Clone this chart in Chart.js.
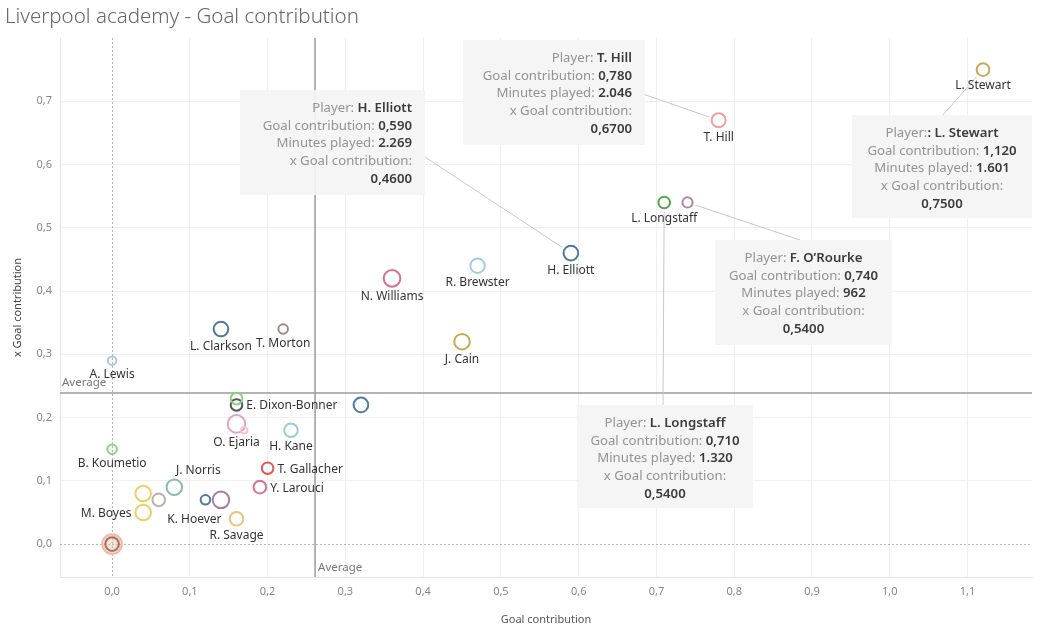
<!DOCTYPE html>
<html><head><meta charset="utf-8">
<script src="https://cdn.jsdelivr.net/npm/chart.js@4"></script>
<style>html,body{margin:0;padding:0;background:#fff;overflow:hidden}</style>
</head><body>
<canvas id="c" width="1044" height="632"></canvas>
<script>
// ---------- data ----------
const players = ["L. Stewart","T. Hill","L. Longstaff","F. O’Rourke","H. Elliott","R. Brewster","N. Williams","J. Cain","L. Clarkson","T. Morton","A. Lewis","E. Dixon-Bonner","","","O. Ejaria","","H. Kane","B. Koumetio","T. Gallacher","Y. Larouci","J. Norris","","","M. Boyes","K. Hoever","","R. Savage","",""];
const goalContribution = [1.12,0.78,0.71,0.74,0.59,0.47,0.36,0.45,0.14,0.22,0.00,0.16,0.16,0.32,0.16,0.17,0.23,0.00,0.20,0.19,0.08,0.04,0.06,0.04,0.12,0.14,0.16,0.00,0.00];
const xGoalContribution = [0.75,0.67,0.54,0.54,0.46,0.44,0.42,0.32,0.34,0.34,0.29,0.22,0.23,0.22,0.19,0.18,0.18,0.15,0.12,0.09,0.09,0.08,0.07,0.05,0.07,0.07,0.04,0.00,0.00];
const minutesPlayed = [1601,2046,1320,962,2269,2200,3000,2600,2250,800,600,1300,1300,2250,3440,300,1900,800,1300,1600,2600,2600,1600,2600,800,3000,1900,4400,1900];
const xTickValues = [0,0.1,0.2,0.3,0.4,0.5,0.6,0.7,0.8,0.9,1.0,1.1];
const yTickValues = [0,0.1,0.2,0.3,0.4,0.5,0.6,0.7];
const averageGoalContribution = 0.261;
const averageXGoalContribution = 0.239;
const calloutPlayers = ["H. Elliott","T. Hill","L. Stewart","F. O’Rourke","L. Longstaff"];
const hiddenLabels = ["F. O’Rourke"];

// ---------- styles ----------
const pointColors = ["#c9a94f","#f0a0a0","#59a14f","#b983a8","#4e79a7","#a0cbe8","#d37295","#c9a94f","#4e79a7","#9a8c8c","#a0cbe8","#555555","#8cd17d","#4e79a7","#d9a6c8","#fabfd2","#9ccbd6","#8cd17d","#e15759","#d37295","#86bcb6","#f1ce63","#bab0ac","#f1ce63","#4e79a7","#a77ca3","#f0c27b","#f7b5a8","#9c755f"];
const FONT = "'Noto Sans', sans-serif";
const radiusOf = m => 1.0 + 0.133 * Math.sqrt(m);
const labelPlacement = {
  "E. Dixon-Bonner": {side: "right"},
  "T. Gallacher": {side: "right"},
  "Y. Larouci": {side: "right"},
  "M. Boyes": {side: "left"},
  "J. Norris": {side: "custom", dx: 24, dy: -17},
  "K. Hoever": {side: "custom", dx: -11, dy: 20}
};
const calloutLayout = {
  "H. Elliott": {box: [240, 90, 185, 105], align: "right", from: [425, 157]},
  "T. Hill": {box: [463, 40, 182, 105], align: "right", from: [640, 93]},
  "L. Stewart": {box: [852, 115, 180, 103], align: "center", from: [943, 115], playerPrefix: ": "},
  "F. O’Rourke": {box: [715, 240, 177, 105], align: "center", from: [800, 240]},
  "L. Longstaff": {box: [577, 405, 176, 103], align: "center", from: [663, 405]}
};

const fmtAxis = v => v.toFixed(1).replace('.', ',');
const fmtThousands = m => String(m).replace(/\B(?=(\d{3})+(?!\d))/g, '.');

const points = players.map((p, i) => ({x: goalContribution[i], y: xGoalContribution[i], r: radiusOf(minutesPlayed[i])}));

const overlay = {
  id: 'overlay',
  beforeDatasetsDraw(chart) {
    const {ctx, chartArea: a, scales: {x, y}} = chart;
    ctx.save();
    ctx.strokeStyle = '#b5b5b5'; ctx.lineWidth = 1; ctx.setLineDash([2, 2]);
    const x0 = Math.round(x.getPixelForValue(0)) + 0.5;
    const y0 = Math.round(y.getPixelForValue(0)) + 0.5;
    ctx.beginPath(); ctx.moveTo(x0, a.top); ctx.lineTo(x0, a.bottom); ctx.stroke();
    ctx.beginPath(); ctx.moveTo(a.left, y0); ctx.lineTo(a.right, y0); ctx.stroke();
    ctx.setLineDash([]);
    ctx.strokeStyle = '#9a9a9a'; ctx.lineWidth = 1.5;
    const ax = x.getPixelForValue(averageGoalContribution);
    const ay = y.getPixelForValue(averageXGoalContribution);
    ctx.beginPath(); ctx.moveTo(ax, a.top); ctx.lineTo(ax, a.bottom); ctx.stroke();
    ctx.beginPath(); ctx.moveTo(a.left, ay); ctx.lineTo(a.right, ay); ctx.stroke();
    ctx.fillStyle = '#777'; ctx.font = "11.5px " + FONT; ctx.textBaseline = 'middle';
    ctx.textAlign = 'left';
    ctx.fillText('Average', a.left + 2, ay - 10);
    ctx.fillText('Average', ax + 3, a.bottom - 9);
    ctx.strokeStyle = '#c8c8c8'; ctx.lineWidth = 1;
    calloutPlayers.forEach(name => {
      const i = players.indexOf(name); const L = calloutLayout[name];
      const px = x.getPixelForValue(goalContribution[i]), py = y.getPixelForValue(xGoalContribution[i]);
      const r = radiusOf(minutesPlayed[i]) + 1;
      const dx = px - L.from[0], dy = py - L.from[1]; const d = Math.hypot(dx, dy);
      ctx.beginPath(); ctx.moveTo(L.from[0], L.from[1]);
      ctx.lineTo(px - dx / d * (r + 2), py - dy / d * (r + 2)); ctx.stroke();
    });
    ctx.restore();
  },
  afterDatasetsDraw(chart) {
    const {ctx, scales: {x, y}} = chart;
    ctx.save();
    ctx.fillStyle = '#666'; ctx.font = "300 20.5px " + FONT; ctx.textAlign = 'left'; ctx.textBaseline = 'middle';
    ctx.fillText('Liverpool academy - Goal contribution', 5, 17);
    ctx.font = "12px " + FONT; ctx.fillStyle = '#333';
    players.forEach((name, i) => {
      if (!name || hiddenLabels.includes(name)) return;
      const px = x.getPixelForValue(goalContribution[i]), py = y.getPixelForValue(xGoalContribution[i]);
      const ro = radiusOf(minutesPlayed[i]) + 1;
      const pl = labelPlacement[name] || {side: 'below'};
      if (pl.side === 'right') { ctx.textAlign = 'left'; ctx.fillText(name, px + ro + 3, py + 1); }
      else if (pl.side === 'left') { ctx.textAlign = 'right'; ctx.fillText(name, px - ro - 3, py + 1); }
      else if (pl.side === 'custom') { ctx.textAlign = 'center'; ctx.fillText(name, px + pl.dx, py + pl.dy); }
      else { ctx.textAlign = 'center'; ctx.fillText(name, px, py + ro + 9); }
    });
    calloutPlayers.forEach(name => {
      const i = players.indexOf(name); const L = calloutLayout[name];
      const [bx, by, bw, bh] = L.box;
      ctx.fillStyle = 'rgba(244,244,244,0.93)';
      ctx.fillRect(bx, by, bw, bh);
      const lines = [
        ['Player:', (L.playerPrefix ? L.playerPrefix : ' ') + name],
        ['Goal contribution:', ' ' + goalContribution[i].toFixed(3).replace('.', ',')],
        ['Minutes played:', ' ' + fmtThousands(minutesPlayed[i])],
        ['x Goal contribution:', ''],
        ['', xGoalContribution[i].toFixed(4).replace('.', ',')]
      ];
      ctx.textBaseline = 'middle'; ctx.textAlign = 'left';
      lines.forEach((ln, k) => {
        const ty = by + 18 + k * 17.8;
        ctx.font = "13.2px " + FONT; const lw = ctx.measureText(ln[0]).width;
        ctx.font = "600 13.2px " + FONT; const vw = ctx.measureText(ln[1]).width;
        let sx;
        if (L.align === 'right') sx = bx + bw - 13 - lw - vw;
        else sx = bx + bw / 2 - (lw + vw) / 2;
        ctx.font = "13.2px " + FONT; ctx.fillStyle = '#939393'; ctx.fillText(ln[0], sx, ty);
        ctx.font = "600 13.2px " + FONT; ctx.fillStyle = '#3a3a3a'; ctx.fillText(ln[1], sx + lw, ty);
      });
    });
    ctx.restore();
  }
};

new Chart(document.getElementById('c'), {
  type: 'bubble',
  data: {
    datasets: [{
      data: points,
      borderColor: pointColors,
      backgroundColor: pointColors.map((c, i) => i === 27 ? 'rgba(247,181,168,0.45)' : 'rgba(255,255,255,0)'),
      borderWidth: 2,
      hoverBorderWidth: 2
    }]
  },
  options: {
    responsive: false,
    devicePixelRatio: 1,
    animation: false,
    layout: {padding: {top: 38, right: 12, left: 0, bottom: 0}, autoPadding: false},
    plugins: {legend: {display: false}, tooltip: {enabled: false}, title: {display: false}},
    scales: {
      x: {
        type: 'linear', min: -0.067, max: 1.183,
        afterBuildTicks: s => { s.ticks = xTickValues.map(v => ({value: v})); },
        afterFit: s => { s.height = 55; },
        ticks: {callback: v => fmtAxis(v), color: '#888', font: {family: FONT, size: 11}, padding: 8, maxRotation: 0},
        grid: {color: ctx => (ctx.tick && ctx.tick.value === 0) ? 'rgba(0,0,0,0)' : '#efefef', drawTicks: false},
        border: {color: '#e4e4e4'},
        title: {display: true, text: 'Goal contribution', color: '#555', font: {family: FONT, size: 11}, padding: {top: 4, bottom: 6}}
      },
      y: {
        type: 'linear', min: -0.052, max: 0.80,
        afterBuildTicks: s => { s.ticks = yTickValues.map(v => ({value: v})); },
        afterFit: s => { s.width = 60; },
        ticks: {callback: v => fmtAxis(v), color: '#888', font: {family: FONT, size: 11}, padding: 8},
        grid: {color: ctx => (ctx.tick && ctx.tick.value === 0) ? 'rgba(0,0,0,0)' : '#efefef', drawTicks: false},
        border: {color: '#e4e4e4'},
        title: {display: true, text: 'x Goal contribution', color: '#444', font: {family: FONT, size: 11}, padding: {top: 11, bottom: 0}}
      }
    }
  },
  plugins: [overlay]
});
</script>
</body></html>
